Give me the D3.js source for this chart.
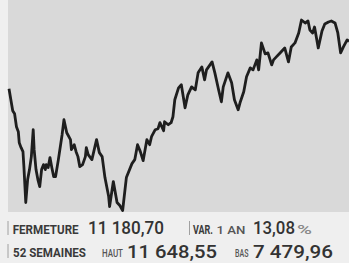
<!DOCTYPE html>
<html><head><meta charset="utf-8">
<script src="https://cdn.jsdelivr.net/npm/d3@7"></script>
<style>
html,body{margin:0;padding:0;background:#efefef;}
svg{display:block;}
</style></head>
<body><svg id="c" width="349" height="263"></svg>
<script>
// Day offsets within the 52-week window, and closing values
const days = [0,4,6,8,10,11,13,15,16,18,20,22,24,26,27,29,31,33,35,37,39,40,42,44,46,48,50,53,57,59,62,66,67,70,72,74,76,79,82,83,85,89,94,97,100,103,107,108,112,116,119,122,126,132,135,138,141,144,148,151,153,157,160,162,166,167,171,174,176,178,182,185,189,192,196,200,203,207,210,212,218,221,225,228,230,235,239,242,246,248,252,255,259,262,266,268,271,275,278,282,284,287,291,296,300,303,307,311,314,318,321,323,326,328,332,336,339,343,346,350,353,356,359,363,365];
const values = [10143,9663,9597,9313,9204,8964,8855,8768,8440,7655,8157,8375,8659,9248,8811,8375,8157,8004,8375,8484,8375,8484,8418,8637,8418,8222,8222,8593,9139,9466,9182,9030,8811,8920,8768,8659,8440,8484,8659,8855,8702,8593,9030,8746,8659,8200,7786,7567,8113,7655,7589,7479.96,8200,8506,8593,8920,8768,8571,9030,8920,9095,9248,9270,9401,9226,9422,9357,9401,9532,9903,10164,10230,9728,10012,10186,10121,10492,10623,10339,10557,10732,10492,10121,9859,10186,10492,10274,9903,9684,9837,10077,10405,10601,10557,10776,10557,11147,10907,10928,10666,10776,10841,10928,11037,10732,11059,11147,11365,11648.55,11583,11627,11430,11365,11496,11037,11409,11561,11605,11627,11583,11365,10928,11059,11212,11180.70];

const closeLabel = "FERMETURE", closeValue = "11 180,70";
const varLabel = "VAR.", varPeriod = "1 AN", varValue = "13,08", varUnit = "%";
const rangeLabel = "52 SEMAINES", highLabel = "HAUT", highValue = "11 648,55", lowLabel = "BAS", lowValue = "7 479,96";

const svg = d3.select("#c");
const plot = {x0: 8, x1: 349, y0: 0, y1: 212};

svg.append("rect").attr("x", plot.x0).attr("y", plot.y0)
  .attr("width", plot.x1 - plot.x0).attr("height", plot.y1 - plot.y0)
  .attr("fill", "#d9d9d9");

const x = d3.scaleLinear().domain([0, 365]).range([9, 349]);
const y = d3.scaleLinear().domain([7479.96, 11648.55]).range([210.5, 20]);

const data = days.map((d, i) => ({d, v: values[i]}));
svg.append("path").datum(data)
  .attr("fill", "none").attr("stroke", "#1e1e1e").attr("stroke-width", 2.8)
  .attr("stroke-linejoin", "round")
  .attr("d", d3.line().x(p => x(p.d)).y(p => y(p.v)));

// text drawn with a horizontally condensed sans (scaled to the reference widths)
function t(str, xx, yy, size, width, color, weight) {
  const g = svg.append("g");
  const el = g.append("text").attr("x", 0).attr("y", 0)
    .attr("font-family", "Roboto, 'DejaVu Sans', sans-serif").attr("font-size", size)
    .attr("fill", color).attr("font-weight", weight)
    .text(str);
  const w = el.node().getComputedTextLength();
  const sx = width / w;
  g.attr("transform", `translate(${xx},${yy}) scale(${sx},1)`);
}
function bar(xx, yTop, yBot) {
  svg.append("line").attr("x1", xx).attr("x2", xx).attr("y1", yTop).attr("y2", yBot)
    .attr("stroke", "#a0a0a0").attr("stroke-width", 1);
}
bar(8, 221, 235); bar(189.5, 221, 235); bar(8, 244, 258);

// row 1
t(closeLabel, 12.7, 233.5, 13, 66, "#3a3a3a", 700);
t(closeValue, 88, 234, 18, 76, "#333", 500);
t(varLabel, 193, 233.5, 13, 20, "#3a3a3a", 700);
t(varPeriod, 216.5, 233.5, 10.5, 29, "#555", 500);
t(varValue, 253, 234, 18, 42, "#333", 500);
t(varUnit, 297, 233.5, 12.5, 15, "#888", 500);
// row 2
t(rangeLabel, 13, 257, 13, 73, "#3a3a3a", 700);
t(highLabel, 102, 256.5, 11.5, 21, "#555", 500);
t(highValue, 127, 257.5, 18, 90, "#333", 500);
t(lowLabel, 235, 256.5, 11.5, 13.5, "#555", 500);
t(lowValue, 253, 257.5, 18, 80, "#333", 500);
</script></body></html>
